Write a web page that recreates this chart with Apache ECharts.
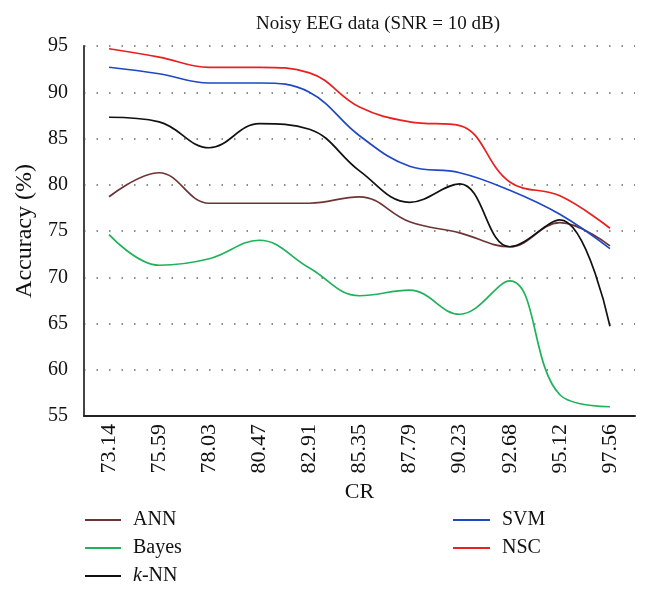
<!DOCTYPE html>
<html><head><meta charset="utf-8">
<script src="https://cdn.jsdelivr.net/npm/echarts@6/dist/echarts.min.js"></script>
<style>html,body{margin:0;padding:0;background:#fff}#c{width:648px;height:592px}</style>
</head><body><div id="c"></div>
<script>
const categories = ['73.14','75.59','78.03','80.47','82.91','85.35','87.79','90.23','92.68','95.12','97.56'];
const ann   = [78.7, 81.3, 78.0, 78.0, 78.0, 78.7, 76.0, 74.8, 73.3, 75.9, 73.4];
const bayes = [74.6, 71.3, 72.0, 74.0, 71.0, 68.0, 68.6, 66.0, 69.6, 57.3, 56.0];
const knn   = [87.3, 86.8, 84.0, 86.6, 86.0, 81.5, 78.1, 80.1, 73.3, 76.2, 64.7];
const svm   = [92.7, 92.0, 91.0, 91.0, 90.0, 85.3, 82.0, 81.3, 79.4, 76.8, 73.1];
const nsc   = [94.7, 93.8, 92.7, 92.7, 92.1, 88.4, 86.8, 86.4, 80.3, 78.8, 75.3];
const yTicks = [55, 60, 65, 70, 75, 80, 85, 90, 95];

const FONT = 'Liberation Serif';
const chart = echarts.init(document.getElementById('c'));
function s(name, data, color) {
  return {name, type: 'line', data, smooth: 0.4, symbol: 'none',
    lineStyle: {color, width: 1.7}, itemStyle: {color}};
}
const legendText = {fontFamily: FONT, fontSize: 20, color: '#111', lineHeight: 28,
  rich: {
    n: {fontFamily: FONT, fontSize: 20, color: '#111', padding: [0, 0, 0, 7]},
    i: {fontFamily: FONT, fontSize: 20, fontStyle: 'italic', color: '#111', padding: [0, 0, 0, 7]},
    r: {fontFamily: FONT, fontSize: 20, color: '#111'}
  }};
function leg(left, top, names, w) {
  return {orient: 'vertical', left, top, itemWidth: w, itemHeight: 2, itemGap: 0,
    icon: 'rect', data: names, padding: 0,
    formatter: n => n === 'k-NN' ? '{i|k}{r|-NN}' : '{n|' + n + '}',
    textStyle: legendText};
}
chart.setOption({
  animation: false,
  textStyle: {fontFamily: FONT},
  title: {text: 'Noisy EEG data (SNR = 10 dB)', left: 373, top: 10, textAlign: 'center',
    textStyle: {fontFamily: FONT, fontSize: 19, fontWeight: 'normal', color: '#111'}},
  grid: {left: 84, right: 13, top: 46, bottom: 176},
  xAxis: {type: 'category', data: categories, boundaryGap: true,
    name: 'CR', nameLocation: 'middle', nameGap: 63,
    nameTextStyle: {fontFamily: FONT, fontSize: 22, color: '#111'},
    axisLine: {lineStyle: {color: '#222', width: 2}},
    axisTick: {show: false},
    axisLabel: {rotate: 90, margin: 8, fontFamily: FONT, fontSize: 22, color: '#111'},
    splitLine: {show: false}},
  yAxis: {type: 'value', min: yTicks[0], max: yTicks[yTicks.length-1], interval: 5,
    name: 'Accuracy (%)', nameLocation: 'middle', nameGap: 36,
    nameTextStyle: {fontFamily: FONT, fontSize: 24, color: '#111'},
    axisLine: {show: true, lineStyle: {color: '#444', width: 2}},
    axisTick: {show: false},
    axisLabel: {margin: 16, fontFamily: FONT, fontSize: 20, color: '#111'},
    splitLine: {show: true, lineStyle: {color: '#666', type: [1.5, 11], width: 1.5}}},
  legend: [
    leg(85, 506, ['ANN', 'Bayes'], 36),
    leg(85, 562, ['k-NN'], 36),
    leg(453, 506, ['SVM', 'NSC'], 37)
  ],
  series: [
    s('ANN', ann, '#6e3434'),
    s('Bayes', bayes, '#1fb25a'),
    s('k-NN', knn, '#111111'),
    s('SVM', svm, '#1f48c4'),
    s('NSC', nsc, '#e8201f')
  ]
});
</script></body></html>
